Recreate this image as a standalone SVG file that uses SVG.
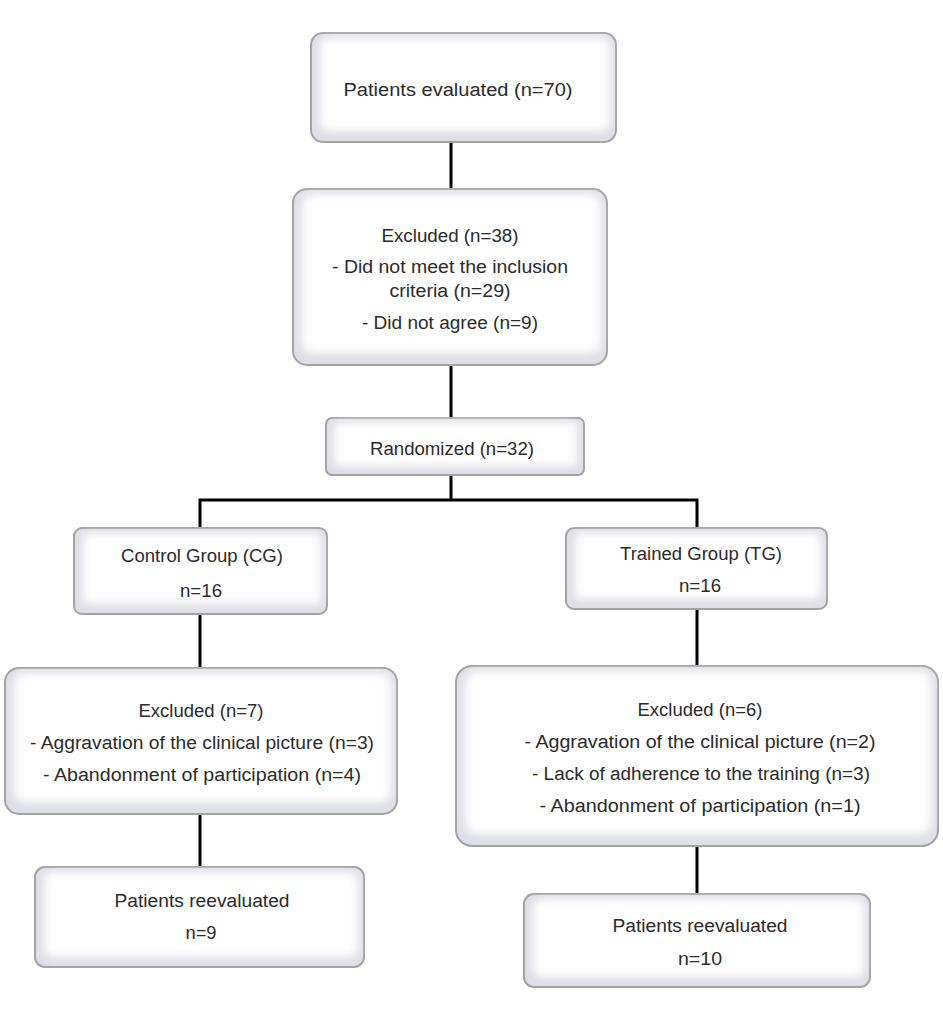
<svg xmlns="http://www.w3.org/2000/svg" width="943" height="1016" viewBox="0 0 943 1016">
<defs>
<filter id="soft" x="-10%" y="-10%" width="120%" height="120%"><feGaussianBlur stdDeviation="4"/></filter>
<style>
.outer{fill:#dedee6;stroke:#a3a3a3;stroke-width:2}
.inner{fill:#ffffff;filter:url(#soft)}
.t{font-family:"Liberation Sans",Arial,sans-serif;font-size:18px;fill:#2b2b2b;text-anchor:middle}
.c{stroke:#000;stroke-width:3;fill:none}
</style>
</defs>
<rect width="943" height="1016" fill="#fff"/>
<g id="connectors">
<line class="c" x1="451" y1="142" x2="451" y2="190"/>
<line class="c" x1="451" y1="365" x2="451" y2="418"/>
<polyline class="c" points="451,475 451,500"/>
<polyline class="c" points="200,527 200,500 697,500 697,527"/>
<line class="c" x1="200" y1="614" x2="200" y2="668"/>
<line class="c" x1="200" y1="814" x2="200" y2="867"/>
<line class="c" x1="697" y1="609" x2="697" y2="666"/>
<line class="c" x1="697" y1="846" x2="697" y2="894"/>
</g>
<g id="n1">
<rect class="outer" x="311" y="33" width="305" height="109" rx="12"/>
<rect class="inner" x="320" y="38" width="290" height="93" rx="8"/>
<text class="t" x="458" y="96" textLength="229" lengthAdjust="spacingAndGlyphs">Patients evaluated (n=70)</text>
</g>
<g id="n2">
<rect class="outer" x="293" y="189" width="314" height="176" rx="14"/>
<rect class="inner" x="302" y="194" width="299" height="159" rx="10"/>
<text class="t" x="450" y="242" textLength="137" lengthAdjust="spacingAndGlyphs">Excluded (n=38)</text>
<text class="t" x="450" y="273" textLength="236" lengthAdjust="spacingAndGlyphs">- Did not meet the inclusion</text>
<text class="t" x="450" y="297" textLength="121" lengthAdjust="spacingAndGlyphs">criteria (n=29)</text>
<text class="t" x="450" y="329" textLength="176" lengthAdjust="spacingAndGlyphs">- Did not agree (n=9)</text>
</g>
<g id="n3">
<rect class="outer" x="326" y="418" width="258" height="57" rx="6"/>
<rect class="inner" x="334" y="422" width="243" height="44" rx="4"/>
<text class="t" x="452" y="455" textLength="164" lengthAdjust="spacingAndGlyphs">Randomized (n=32)</text>
</g>
<g id="n4">
<rect class="outer" x="74" y="528" width="253" height="86" rx="8"/>
<rect class="inner" x="83" y="533" width="238" height="71" rx="6"/>
<text class="t" x="202" y="562" textLength="162" lengthAdjust="spacingAndGlyphs">Control Group (CG)</text>
<text class="t" x="201" y="597" textLength="42" lengthAdjust="spacingAndGlyphs">n=16</text>
</g>
<g id="n5">
<rect class="outer" x="566" y="528" width="261" height="81" rx="8"/>
<rect class="inner" x="575" y="533" width="246" height="66" rx="6"/>
<text class="t" x="701" y="560" textLength="162" lengthAdjust="spacingAndGlyphs">Trained Group (TG)</text>
<text class="t" x="700" y="592" textLength="42" lengthAdjust="spacingAndGlyphs">n=16</text>
</g>
<g id="n6">
<rect class="outer" x="5" y="668" width="392" height="146" rx="14"/>
<rect class="inner" x="14" y="673" width="377" height="129" rx="10"/>
<text class="t" x="201" y="717" textLength="125" lengthAdjust="spacingAndGlyphs">Excluded (n=7)</text>
<text class="t" x="202" y="749" textLength="344" lengthAdjust="spacingAndGlyphs">- Aggravation of the clinical picture (n=3)</text>
<text class="t" x="202" y="781" textLength="318" lengthAdjust="spacingAndGlyphs">- Abandonment of participation (n=4)</text>
</g>
<g id="n7">
<rect class="outer" x="35" y="867" width="329" height="100" rx="10"/>
<rect class="inner" x="44" y="872" width="314" height="85" rx="8"/>
<text class="t" x="202" y="907" textLength="175" lengthAdjust="spacingAndGlyphs">Patients reevaluated</text>
<text class="t" x="201" y="939" textLength="31" lengthAdjust="spacingAndGlyphs">n=9</text>
</g>
<g id="n8">
<rect class="outer" x="456" y="666" width="482" height="180" rx="16"/>
<rect class="inner" x="465" y="671" width="467" height="163" rx="12"/>
<text class="t" x="700" y="716" textLength="125" lengthAdjust="spacingAndGlyphs">Excluded (n=6)</text>
<text class="t" x="700" y="748" textLength="351" lengthAdjust="spacingAndGlyphs">- Aggravation of the clinical picture  (n=2)</text>
<text class="t" x="701" y="780" textLength="338" lengthAdjust="spacingAndGlyphs">- Lack of adherence to the training (n=3)</text>
<text class="t" x="700" y="812" textLength="321" lengthAdjust="spacingAndGlyphs">- Abandonment of participation  (n=1)</text>
</g>
<g id="n9">
<rect class="outer" x="524" y="894" width="346" height="93" rx="10"/>
<rect class="inner" x="533" y="899" width="331" height="78" rx="8"/>
<text class="t" x="700" y="932" textLength="175" lengthAdjust="spacingAndGlyphs">Patients reevaluated</text>
<text class="t" x="700" y="965" textLength="44" lengthAdjust="spacingAndGlyphs">n=10</text>
</g>
</svg>
